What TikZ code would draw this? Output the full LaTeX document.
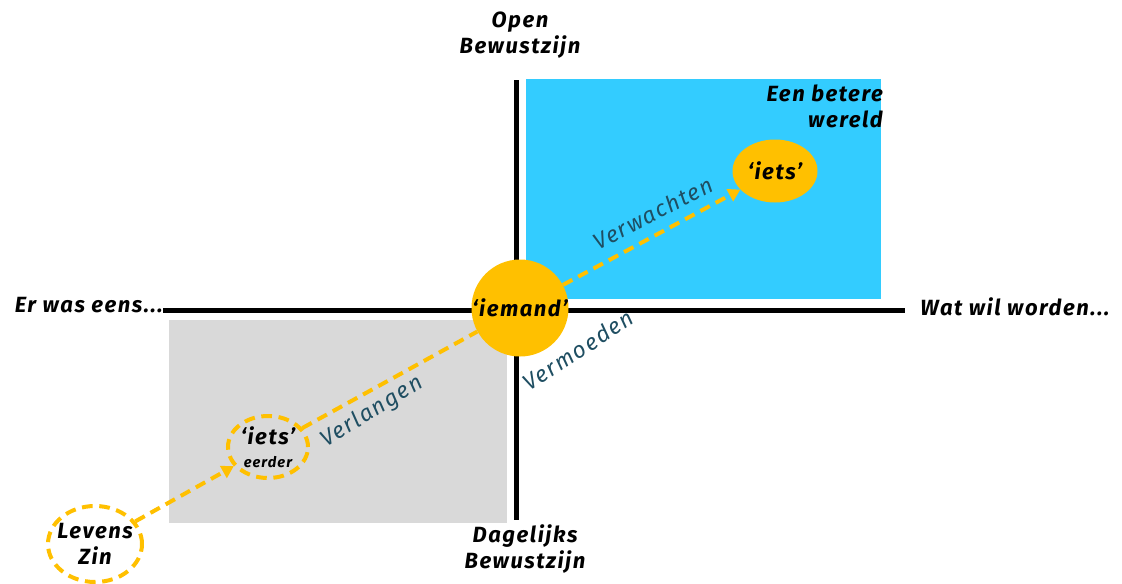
\documentclass[tikz,border=0pt]{standalone}
\usepackage{fontspec}
\setmainfont{Fira Sans}[LetterSpace=7]
\usetikzlibrary{arrows.meta,shapes.geometric}

\definecolor{skyblue}{HTML}{33CCFF}
\definecolor{lightgrey}{HTML}{D9D9D9}
\definecolor{gold}{HTML}{FFC000}
\definecolor{darkteal}{HTML}{1F4E62}

\begin{document}
\begin{tikzpicture}
    [x=0.75pt,y=-0.75pt,inner sep=0pt,
     caption/.style={font=\fontsize{16.5}{19}\selectfont\bfseries\itshape,align=center},
     verb/.style={font=\fontsize{17}{20}\selectfont\itshape,text=darkteal},
     axis/.style={line width=3.75pt},
     flow/.style={draw=gold,line width=3pt,dash pattern=on 8pt off 5pt},
     flowarrow/.style={flow,-{Triangle[length=9pt,width=10pt]}}]

    \useasboundingbox (0,0) rectangle (1122,583);

    % quadrants:
    \fill [skyblue] (526,79) rectangle (881,299);
    \fill [lightgrey] (169,320) rectangle (507,523);

    % axes:
    \coordinate (west) at (163,310);
    \coordinate (east) at (905,310);
    \coordinate (north) at (516,80);
    \coordinate (south) at (516,520);
    \draw [axis] (west) -- (east);
    \draw [axis] (north) -- (south);

    % axis labels:
    \node (open) at (520,35) [caption] {Open\\Bewustzijn};
    \node (daily) at (525,549) [caption] {Dagelijks\\Bewustzijn};
    \node (past) at (163,305) [caption,anchor=east] {Er was eens...};
    \node (future) at (920,307) [caption,anchor=west] {Wat wil worden...};
    \node (better) at (883,85) [caption,anchor=north east,align=right] {Een betere\\wereld};

    % circles:
    \node (iemand) at (520,308) [circle,fill=gold,minimum size=72.75pt,caption] {`iemand'};
    \node (iets) at (775,171) [ellipse,fill=gold,minimum width=63.75pt,minimum height=47.25pt,caption] {`iets'};
    \node (eerder) at (268,447) [ellipse,flow,minimum width=60pt,minimum height=46.5pt,caption]
        {`iets'\\[-2pt]{\fontsize{11}{13}\selectfont eerder}};
    \node (zin) at (95,544) [ellipse,flow,inner xsep=-4pt,inner ysep=-2pt,minimum width=70.5pt,minimum height=57pt,caption] {Levens\\Zin};

    % connect nodes:
    \draw [flowarrow] (zin) -- (eerder);
    \draw [flow] (eerder) -- (iemand);
    \draw [flowarrow] (iemand) -- (iets);

    % verbs:
    \node (verwachten) at (653,213) [verb,rotate=27] {Verwachten};
    \node (vermoeden) at (578,350) [verb,rotate=33] {Vermoeden};
    \node (verlangen) at (372,412) [verb,rotate=32] {Verlangen};

\end{tikzpicture}
\end{document}
